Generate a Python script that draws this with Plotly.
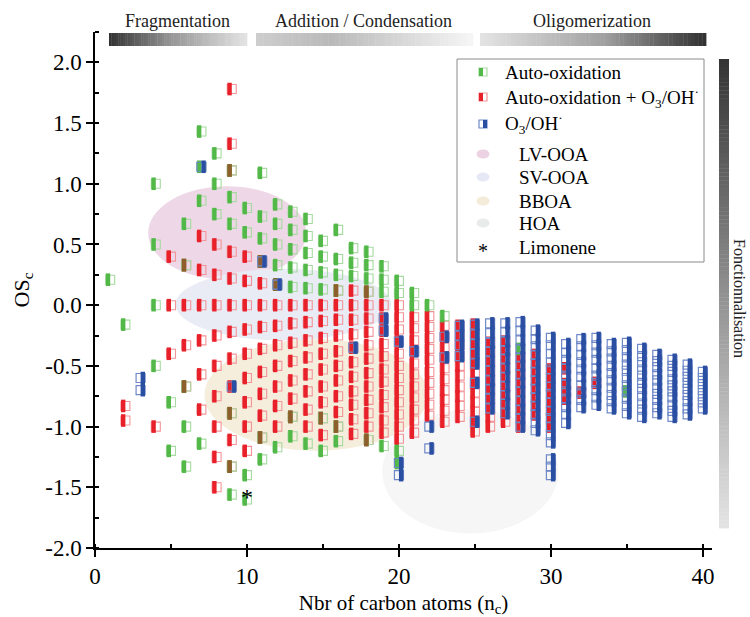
import plotly.graph_objects as go

# ---------------- data ----------------
green_nc = [1, 2, 4, 5, 6, 7, 8, 9, 10, 11, 12, 13, 14, 15, 16, 17, 18, 19, 20, 21, 22, 23, 28, 35]
green_osc = [
    [0.21],
    [-0.16],
    [1.0, 0.5, 0.0, -0.5],
    [-0.8, -1.2],
    [0.67, 0.33, -0.67, -1.0, -1.33],
    [1.43, 1.14, 0.86, -1.14],
    [1.25, 1.0, 0.75],
    [1.11, 0.89, 0.67, -0.89, -1.33, -1.56],
    [0.8, 0.6, -1.4, -1.6],
    [1.09, 0.73, 0.55, 0.36, -1.09, -1.27],
    [0.83, 0.67, 0.5, 0.33, 0.17, -1.17],
    [0.77, 0.62, 0.46, 0.31, 0.15, -0.92, -1.08],
    [0.71, 0.57, 0.43, 0.29, 0.14, -1.14],
    [0.53, 0.4, 0.27, 0.13, -0.93, -1.2],
    [0.62, 0.38, 0.25, 0.12, -1.0, -1.12],
    [0.47, 0.35, 0.24],
    [0.44, 0.33, 0.22, 0.11, -1.11],
    [0.32, 0.21, 0.11, -1.16],
    [0.2, 0.1, -1.2, -1.3],
    [0.1, 0.0],
    [0.0],
    [-0.09],
    [-0.36],
    [-0.71],
]

red_nc = [2, 4, 5, 6, 7, 8, 9, 10, 11, 12, 13, 14, 15, 16, 17, 18, 19, 20, 21, 22, 23, 24, 25,
          26, 27, 28, 29, 30, 31, 32, 33]
red_osc = [
    [-0.83, -0.95],
    [-1.0],
    [0.4, 0.0, -0.4],
    [0.33, 0.0, -0.33, -0.67],
    [0.57, 0.29, 0.0, -0.29, -0.57, -0.86],
    [0.5, 0.25, 0.0, -0.25, -0.5, -0.75, -1.0, -1.25, -1.5],
    [1.78, 1.33, 1.11, 0.44, 0.22, 0.0, -0.22, -0.44, -0.67, -0.89, -1.11, -1.33],
    [0.4, 0.2, 0.0, -0.2, -0.4, -0.6, -0.8, -1.0, -1.2],
    [0.36, 0.18, 0.0, -0.18, -0.36, -0.55, -0.73, -0.91, -1.09],
    [0.17, 0.0, -0.17, -0.33, -0.5, -0.67, -0.83, -1.0],
    [0.0, -0.15, -0.31, -0.46, -0.62, -0.77, -0.92],
    [0.0, -0.14, -0.29, -0.43, -0.57, -0.71, -0.86, -1.0],
    [0.0, -0.13, -0.27, -0.4, -0.53, -0.67, -0.8, -0.93, -1.07],
    [0.12, 0.0, -0.12, -0.25, -0.38, -0.5, -0.62, -0.75, -0.88, -1.0],
    [0.12, 0.0, -0.12, -0.24, -0.35, -0.47, -0.59, -0.71, -0.82, -0.94, -1.06],
    [0.11, 0.0, -0.11, -0.22, -0.33, -0.44, -0.56, -0.67, -0.78, -0.89, -1.0, -1.11],
    [0.0, -0.11, -0.21, -0.32, -0.42, -0.53, -0.63, -0.74, -0.84, -0.95, -1.05],
    [0.0, -0.1, -0.2, -0.3, -0.4, -0.5, -0.6, -0.7, -0.8, -0.9, -1.0, -1.1],
    [-0.1, -0.19, -0.29, -0.38, -0.48, -0.57, -0.67, -0.76, -0.86, -0.95, -1.05],
    [-0.09, -0.18, -0.27, -0.36, -0.45, -0.55, -0.64, -0.73, -0.82, -0.91],
    [-0.17, -0.26, -0.35, -0.43, -0.52, -0.61, -0.7, -0.78, -0.87, -0.96],
    [-0.17, -0.25, -0.33, -0.42, -0.5, -0.58, -0.67, -0.75, -0.83, -0.92],
    [-0.16, -0.24, -0.32, -0.4, -0.48, -0.56, -0.64, -0.72, -0.8, -0.88, -0.96, -1.04],
    [-0.31, -0.38, -0.46, -0.54, -0.62, -0.69, -0.77, -0.85, -0.92, -1.0],
    [-0.3, -0.37, -0.44, -0.52, -0.59, -0.67, -0.74, -0.81, -0.89, -0.96],
    [-0.43, -0.5, -0.57, -0.64, -0.71, -0.79, -0.86, -0.93, -1.0],
    [-0.41, -0.48, -0.55, -0.62, -0.69, -0.76, -0.83, -0.9],
    [-0.53, -0.6, -0.67, -0.73, -0.8, -0.87, -0.93, -1.0],
    [-0.52, -0.65, -0.71, -0.77],
    [-0.72],
    [-0.64],
]

blue_nc = [3, 7, 9, 11, 12, 17, 19, 20, 21, 22, 23, 24, 25, 26, 27, 28, 29, 30, 31, 32, 33,
           34, 35, 36, 37, 38, 39, 40]
blue_osc = [
    [-0.6, -0.7],
    [1.14],
    [-0.67],
    [0.36],
    [0.17],
    [-0.35],
    [-0.11, -0.21],
    [-0.3, -1.3, -1.4],
    [-0.38],
    [-1.0, -1.18],
    [-0.26, -0.43],
    [-0.17, -0.25, -0.33, -0.42],
    [-0.16, -0.24, -0.32, -0.4, -0.48, -0.64, -0.96],
    [-0.15, -0.23, -0.31, -0.38, -0.46, -0.54, -0.62, -0.69, -0.77, -0.85],
    [-0.15, -0.22, -0.3, -0.37, -0.44, -0.52, -0.59, -0.67, -0.74, -0.81, -0.89],
    [-0.14, -0.21, -0.29, -0.36, -0.43, -0.5, -0.57, -0.64, -0.71, -0.79, -0.86, -0.93, -1.0],
    [-0.21, -0.28, -0.34, -0.41, -0.48, -0.55, -0.62, -0.69, -0.76, -0.83, -0.9, -0.97, -1.03],
    [-0.27, -0.33, -0.4, -0.47, -0.53, -0.6, -0.67, -0.73, -0.8, -0.87, -0.93, -1.0, -1.07,
     -1.13, -1.27, -1.33, -1.4],
    [-0.32, -0.39, -0.45, -0.52, -0.58, -0.65, -0.71, -0.77, -0.84, -0.9, -0.97],
    [-0.28, -0.34, -0.41, -0.47, -0.53, -0.59, -0.66, -0.72, -0.78, -0.84],
    [-0.27, -0.33, -0.39, -0.45, -0.52, -0.58, -0.64, -0.7, -0.76, -0.82],
    [-0.32, -0.38, -0.44, -0.5, -0.56, -0.62, -0.68, -0.74, -0.79, -0.85],
    [-0.31, -0.37, -0.43, -0.49, -0.54, -0.6, -0.66, -0.71, -0.77, -0.83, -0.89],
    [-0.36, -0.42, -0.47, -0.53, -0.58, -0.64, -0.69, -0.75, -0.81, -0.86, -0.92],
    [-0.41, -0.46, -0.51, -0.57, -0.62, -0.68, -0.73, -0.78, -0.84, -0.89],
    [-0.45, -0.5, -0.55, -0.61, -0.66, -0.71, -0.76, -0.82, -0.87, -0.92],
    [-0.49, -0.54, -0.59, -0.64, -0.69, -0.74, -0.79, -0.85, -0.9],
    [-0.55, -0.6, -0.65, -0.7, -0.75, -0.8, -0.85],
]

limonene_nc = [10]
limonene_osc = [-1.6]

# ellipse regions (nc range, OSc range)
region_names = ["LV-OOA", "SV-OOA", "BBOA", "HOA"]
region_nc = [(3.5, 13.9), (5.3, 19.5), (7.2, 21.9), (18.9, 30.5)]
region_osc = [(0.21, 0.98), (-0.29, 0.30), (-1.20, -0.28), (-1.88, -0.86)]
region_colors = ["#eed7e6", "#e9ebf5", "#f5eedd", "#f6f6f6"]
legend_region_colors = ["#ecd2e2", "#e6e9f5", "#f4ecd8", "#e9ebeb"]

x_ticks = [0, 10, 20, 30, 40]
y_ticks = [-2.0, -1.5, -1.0, -0.5, 0.0, 0.5, 1.0, 1.5, 2.0]
y_ticktext = ["-2.0", "-1.5", "-1.0", "-0.5", "0.0", "0.5", "1.0", "1.5", "2.0"]

assert len(green_nc) == len(green_osc)
assert len(red_nc) == len(red_osc)
assert len(blue_nc) == len(blue_osc)

# ---------------- layout geometry ----------------
W, H = 750, 617
L, R, T, B = 95, 712, 32, 548
X_RANGE = [0, 40.6]
Y_RANGE = [-2.0, 2.25]
FONT = "Liberation Serif, DejaVu Serif, serif"

def fx(px):
    return (px - L) / (R - L)

def fy(py):
    return (B - py) / (B - T)

unit_px = (R - L) / (X_RANGE[1] - X_RANGE[0])
half_off = 2.2 / unit_px  # half-cell offset in data units
MS = 9


def flatten(ncs, oscs):
    xs, ys = [], []
    for n, vals in zip(ncs, oscs):
        for v in vals:
            xs.append(n)
            ys.append(v)
    return xs, ys


gx, gy = flatten(green_nc, green_osc)
rx, ry = flatten(red_nc, red_osc)
bx, by = flatten(blue_nc, blue_osc)

GREEN, GREEN_L = "#52b848", "#a6daa0"
RED, RED_L = "#e8202a", "#f29599"
BLUE, BLUE_L = "#2a4ea2", "#6f89c8"
BROWN = "#8e5e2c"

fig = go.Figure()


def add_series(xs, ys, dark, light, side, outline_w=1.1):
    fig.add_trace(go.Scatter(
        x=xs, y=ys, mode="markers", hoverinfo="skip", showlegend=False,
        marker=dict(symbol="square-open", size=MS, color=light,
                    line=dict(width=outline_w, color=light))))
    fig.add_trace(go.Scatter(
        x=[v + side * half_off for v in xs], y=ys, mode="markers",
        hoverinfo="skip", showlegend=False,
        marker=dict(symbol="line-ns", size=MS, color=dark,
                    line=dict(width=4.4, color=dark))))


add_series(rx, ry, RED, RED_L, -1)
add_series(gx, gy, GREEN, GREEN_L, -1)

# points shared by auto-oxidation and mixed pathways (mixed colour)
red_set = set(zip(rx, ry))
ov = [(x, y) for x, y in zip(gx, gy) if (x, y) in red_set]
if ov:
    fig.add_trace(go.Scatter(
        x=[p[0] - half_off for p in ov], y=[p[1] for p in ov], mode="markers",
        hoverinfo="skip", showlegend=False,
        marker=dict(symbol="line-ns", size=MS, color=BROWN, line=dict(width=4.4, color=BROWN))))

add_series(bx, by, BLUE, BLUE_L, +1, outline_w=1.2)

fig.add_trace(go.Scatter(
    x=limonene_nc, y=limonene_osc, mode="text", text=["*"], hoverinfo="skip",
    showlegend=False, textposition="middle center",
    textfont=dict(family=FONT, size=24, color="black")))

shapes = []
for (x0, x1), (y0, y1), c in zip(region_nc, region_osc, region_colors):
    shapes.append(dict(type="circle", xref="x", yref="y", x0=x0, x1=x1, y0=y0, y1=y1,
                       fillcolor=c, line=dict(width=0), layer="below"))


def interp(stops, t):
    for (t0, g0), (t1, g1) in zip(stops[:-1], stops[1:]):
        if t0 <= t <= t1:
            return g0 + (g1 - g0) * (t - t0) / (t1 - t0)
    return stops[-1][1]


def hgrad(px0, px1, py0, py1, stops, n=60):
    w = (px1 - px0) / n
    for i in range(n):
        g = int(round(interp(stops, (i + 0.5) / n)))
        shapes.append(dict(type="rect", xref="paper", yref="paper",
                           x0=fx(px0 + i * w), x1=fx(px0 + (i + 1) * w + 0.4),
                           y0=fy(py1), y1=fy(py0),
                           fillcolor=f"rgb({g},{g},{g})", line=dict(width=0)))


def vgrad(px0, px1, py0, py1, stops, n=120):
    h = (py1 - py0) / n
    for i in range(n):
        g = int(round(interp(stops, (i + 0.5) / n)))
        shapes.append(dict(type="rect", xref="paper", yref="paper",
                           x0=fx(px0), x1=fx(px1),
                           y0=fy(py0 + (i + 1) * h + 0.4), y1=fy(py0 + i * h),
                           fillcolor=f"rgb({g},{g},{g})", line=dict(width=0)))


hgrad(109, 247, 33, 46, [(0, 50), (0.45, 150), (1, 228)])
hgrad(256, 473, 33, 46, [(0, 205), (0.35, 185), (1, 246)])
hgrad(480, 706, 33, 46, [(0, 228), (0.55, 160), (1, 48)])
vgrad(719, 729, 59, 528, [(0, 52), (0.5, 145), (1, 228)])

# legend box
shapes.append(dict(type="rect", xref="paper", yref="paper", x0=fx(457), x1=fx(704),
                   y0=fy(262), y1=fy(59), line=dict(color="#8a8a8a", width=1),
                   fillcolor="white"))
icon_cx = 483
for cy, dark, light, side in [(72, GREEN, GREEN_L, -1), (97, RED, RED_L, -1),
                              (124, BLUE, BLUE_L, 1)]:
    shapes.append(dict(type="rect", xref="paper", yref="paper",
                       x0=fx(icon_cx - 4), x1=fx(icon_cx + 4), y0=fy(cy + 4), y1=fy(cy - 4),
                       line=dict(color=light, width=1.2), fillcolor="white"))
    if side < 0:
        a, b = icon_cx - 4, icon_cx
    else:
        a, b = icon_cx, icon_cx + 4
    shapes.append(dict(type="rect", xref="paper", yref="paper",
                       x0=fx(a), x1=fx(b), y0=fy(cy + 4), y1=fy(cy - 4),
                       line=dict(width=0), fillcolor=dark))
for cy, c in zip([154, 177, 201, 223], legend_region_colors):
    shapes.append(dict(type="circle", xref="paper", yref="paper",
                       x0=fx(icon_cx - 6.5), x1=fx(icon_cx + 6.5), y0=fy(cy + 4.5), y1=fy(cy - 4.5),
                       line=dict(width=0), fillcolor=c))

annotations = []
leg_font = dict(family=FONT, size=19, color="black")
leg_labels = ["Auto-oxidation", "Auto-oxidation + O<sub>3</sub>/OH<sup>·</sup>",
              "O<sub>3</sub>/OH<sup>·</sup>"]
for lab, cy in zip(leg_labels, [72, 97, 124]):
    annotations.append(dict(xref="paper", yref="paper", x=fx(503), y=fy(cy), text=lab,
                            showarrow=False, xanchor="left", yanchor="middle", font=leg_font))
for lab, cy in zip(region_names + ["Limonene"], [154, 177, 201, 223, 248]):
    annotations.append(dict(xref="paper", yref="paper", x=fx(517), y=fy(cy), text=lab,
                            showarrow=False, xanchor="left", yanchor="middle", font=leg_font))
annotations.append(dict(xref="paper", yref="paper", x=fx(icon_cx), y=fy(251), text="*",
                        showarrow=False, xanchor="center", yanchor="middle",
                        font=dict(family=FONT, size=20, color="black")))

top_font = dict(family=FONT, size=18, color="#222")
for lab, cx in [("Fragmentation", 177), ("Addition / Condensation", 363), ("Oligomerization", 592)]:
    annotations.append(dict(xref="paper", yref="paper", x=fx(cx), y=fy(21), text=lab,
                            showarrow=False, xanchor="center", yanchor="middle", font=top_font))
annotations.append(dict(xref="paper", yref="paper", x=fx(740), y=fy(298),
                        text="Fonctionnalisation", textangle=90, showarrow=False,
                        xanchor="center", yanchor="middle",
                        font=dict(family=FONT, size=16, color="#222")))

axis_common = dict(showline=True, linecolor="black", linewidth=1.5, mirror=False,
                   showgrid=False, zeroline=False, ticks="outside", ticklen=7,
                   tickwidth=1.5, tickcolor="black", automargin=False,
                   tickfont=dict(family=FONT, size=23, color="black"))

fig.update_xaxes(range=X_RANGE, tickmode="array", tickvals=x_ticks,
                 ticktext=[str(v) for v in x_ticks],
                 minor=dict(dtick=5, tick0=0, ticks="inside", ticklen=4, tickwidth=1.5,
                            tickcolor="black"),
                 title=dict(text="Nbr of carbon atoms (n<sub>c</sub>)", standoff=8,
                            font=dict(family=FONT, size=21, color="black")),
                 **axis_common)
fig.update_yaxes(range=Y_RANGE, tickmode="array", tickvals=y_ticks, ticktext=y_ticktext,
                 minor=dict(dtick=0.25, tick0=0, ticks="inside", ticklen=4, tickwidth=1.5,
                            tickcolor="black"),
                 title=dict(text="OS<sub>c</sub>", standoff=10,
                            font=dict(family=FONT, size=22, color="black")),
                 **axis_common)

fig.update_layout(width=W, height=H, margin=dict(l=L, r=W - R, t=T, b=H - B),
                  font=dict(family=FONT, color="black"),
                  plot_bgcolor="white", paper_bgcolor="white", showlegend=False,
                  shapes=shapes, annotations=annotations)

fig.write_html("out.html")
